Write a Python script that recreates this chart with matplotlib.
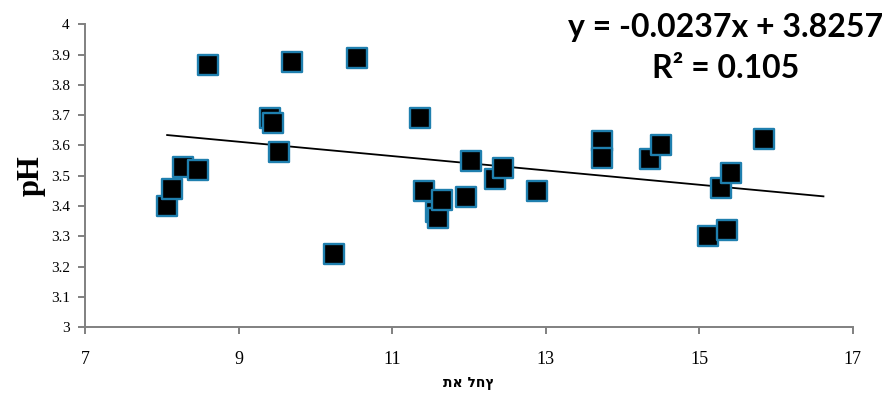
import numpy as np
import matplotlib.pyplot as plt

# pressure chamber readings vs pH
pressure = [8.07, 8.13, 8.28, 8.47, 8.60, 9.41, 9.45, 9.53, 9.70, 10.24,
            10.54, 11.36, 11.41, 11.57, 11.60, 11.65, 11.96, 12.03, 12.34, 12.44,
            12.89, 13.74, 13.74, 14.36, 14.51, 15.11, 15.28, 15.37, 15.42, 15.85]
ph = [3.40, 3.455, 3.53, 3.52, 3.865, 3.69, 3.675, 3.58, 3.875, 3.24,
      3.89, 3.69, 3.45, 3.38, 3.36, 3.42, 3.43, 3.55, 3.49, 3.525,
      3.45, 3.615, 3.56, 3.555, 3.60, 3.30, 3.46, 3.32, 3.51, 3.62]

slope = -0.0237
intercept = 3.8257
r2 = 0.105
trend_end = 16.62

xticks = [7, 9, 11, 13, 15, 17]
yticks = [3.0, 3.1, 3.2, 3.3, 3.4, 3.5, 3.6, 3.7, 3.8, 3.9, 4.0]
ytick_labels = ['3', '3.1', '3.2', '3.3', '3.4', '3.5', '3.6', '3.7', '3.8', '3.9', '4']

fig = plt.figure(figsize=(8.9, 3.94), dpi=100)
ax = fig.add_axes([0.0955, 0.170, 0.8625, 0.768])

# trendline
tx = np.array([min(pressure), trend_end])
ax.plot(tx, slope * tx + intercept, color='black', lw=1.3, zorder=2)

ax.scatter(pressure, ph, marker='s', s=210, facecolor='black',
           edgecolor='#1f7fae', linewidth=1.7, zorder=3, clip_on=False)

ax.set_xlim(7, 17)
ax.set_ylim(3, 4)
ax.set_xticks(xticks)
ax.set_yticks(yticks)
ax.set_xticklabels([str(t) for t in xticks], fontsize=13, family='Liberation Serif')
ax.set_yticklabels(ytick_labels, fontsize=11, family='Liberation Serif')

for s in ['top', 'right']:
    ax.spines[s].set_visible(False)
for s in ['left', 'bottom']:
    ax.spines[s].set_color('#808080')
    ax.spines[s].set_linewidth(1.4)
ax.tick_params(axis='both', direction='out', length=5, width=1.4, color='#808080')
ax.tick_params(axis='x', pad=12)
ax.tick_params(axis='y', pad=6)

ax.set_ylabel('pH', fontsize=22, fontweight='bold', family='Liberation Serif', labelpad=4)
ax.set_xlabel('תא לחץ', fontsize=10, fontweight='bold', family='DejaVu Sans', labelpad=6)

fig.text(0.815, 0.931, 'y = %.4fx + %.4f' % (slope, intercept), ha='center', va='center',
         fontsize=23, fontweight='bold', family='Lato')
fig.text(0.815, 0.827, 'R² = %.3f' % r2, ha='center', va='center',
         fontsize=23, fontweight='bold', family='Lato')

fig.savefig('out.png', dpi=100)
